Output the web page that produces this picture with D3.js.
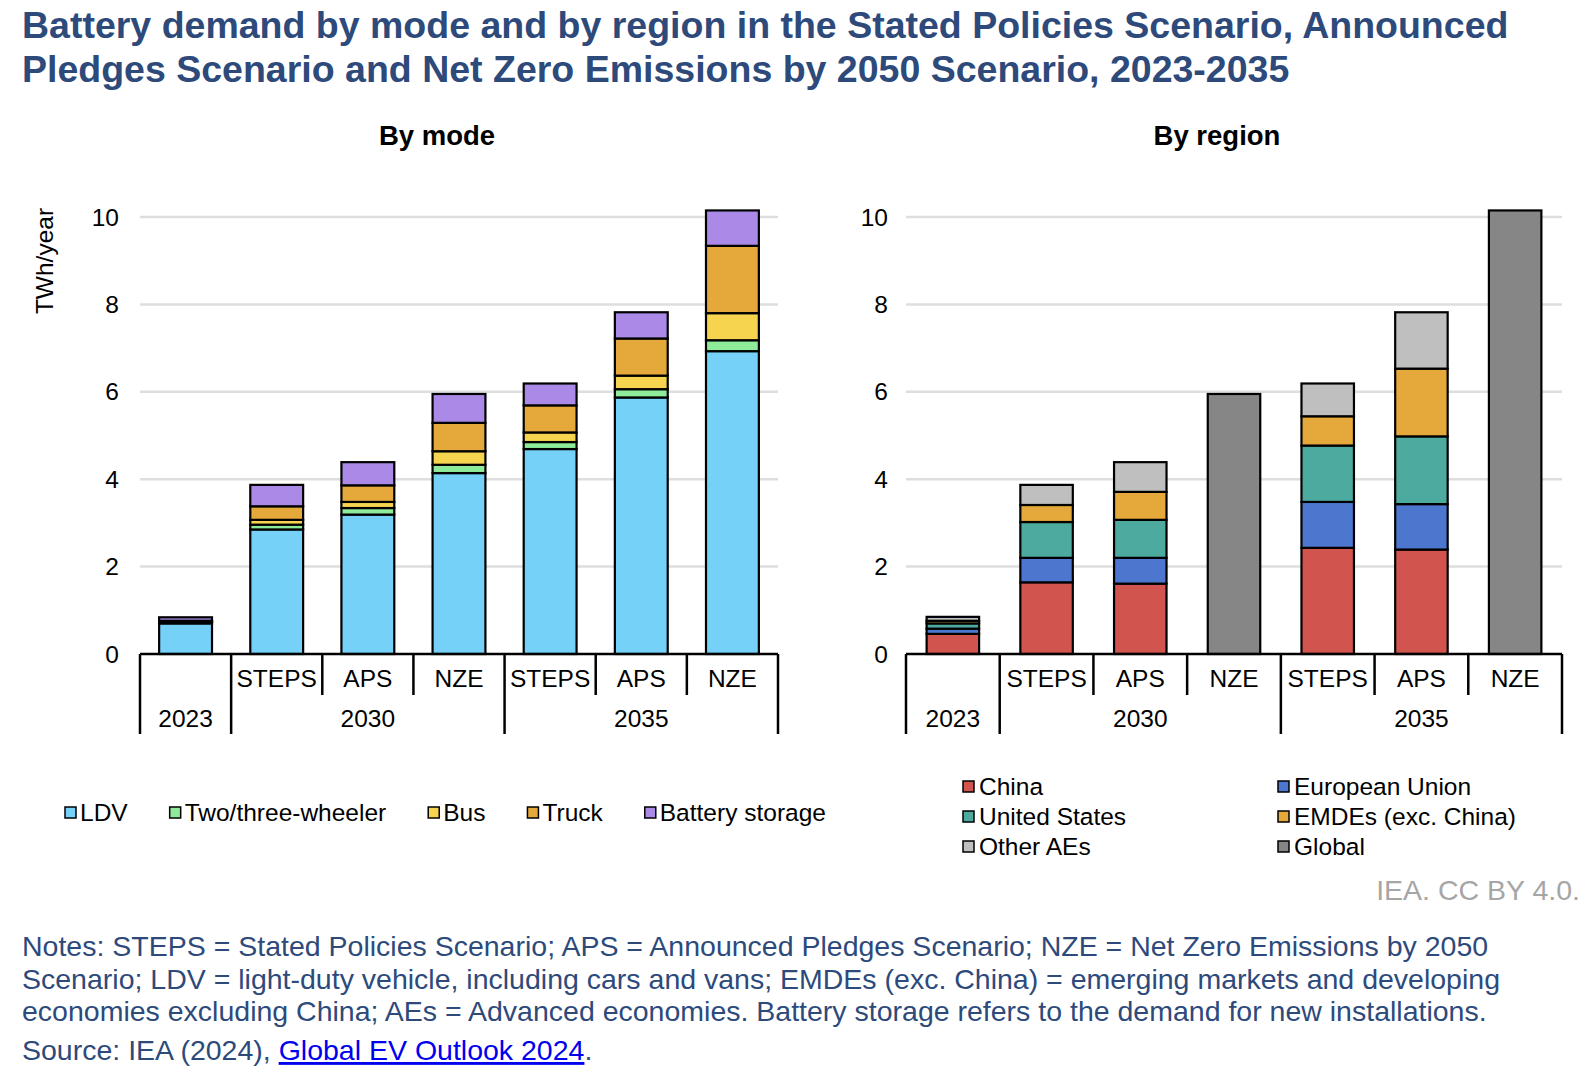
<!DOCTYPE html>
<html>
<head>
<meta charset="utf-8">
<script src="https://cdn.jsdelivr.net/npm/d3@7"></script>
<style>
    body { margin: 0; background: #fff; }
    svg text { font-family: "Liberation Sans", Arial, Helvetica, sans-serif; }
</style>
</head>
<body>
<svg id="chart" width="1588" height="1084"></svg>
<script>
// Categories (two-level axis)
const years = ["2023", "2030", "2030", "2030", "2035", "2035", "2035"];
const scenarios = ["", "STEPS", "APS", "NZE", "STEPS", "APS", "NZE"];
const yTicks = [0, 2, 4, 6, 8, 10];

// By mode, TWh/year
const modeNames = ["LDV", "Two/three-wheeler", "Bus", "Truck", "Battery storage"];
const ldv      = [0.70, 2.85, 3.19, 4.14, 4.69, 5.87, 6.93];
const twoThree = [0.03, 0.11, 0.15, 0.19, 0.16, 0.19, 0.25];
const bus      = [0.01, 0.11, 0.14, 0.31, 0.22, 0.31, 0.62];
const truck    = [0.02, 0.31, 0.38, 0.65, 0.62, 0.85, 1.54];
const storage  = [0.08, 0.49, 0.53, 0.66, 0.50, 0.60, 0.81];
const modeColors = ["#75d1f8", "#8eeb9a", "#f6d44f", "#e5a93b", "#aa8ae6"];

// By region, TWh/year
const regionNames = ["China", "European Union", "United States", "EMDEs (exc. China)", "Other AEs", "Global"];
const china    = [0.46, 1.64, 1.61, 0, 2.43, 2.39, 0];
const eu       = [0.12, 0.56, 0.59, 0, 1.05, 1.04, 0];
const us       = [0.12, 0.82, 0.87, 0, 1.29, 1.55, 0];
const emdes    = [0.06, 0.39, 0.64, 0, 0.67, 1.55, 0];
const otherAEs = [0.09, 0.46, 0.68, 0, 0.75, 1.29, 0];
const global   = [0, 0, 0, 5.95, 0, 0, 10.15];
const regionColors = ["#d1554e", "#4d77cf", "#4daa9e", "#e5a93b", "#bfbfbf", "#868686"];

const TITLE_COLOR = "#2d4a7b";
const svg = d3.select("#chart");

function buildRows(names, series) {
    return years.map((y, i) => {
        const row = { idx: i };
        names.forEach((n, k) => row[n] = series[k][i]);
        return row;
    });
}

function drawPanel(opt) {
    const g = svg.append("g");
    const x = d3.scaleBand()
        .domain(d3.range(years.length))
        .range([opt.left, opt.right])
        .paddingInner(opt.pad)
        .paddingOuter(opt.pad / 2);
    const y = d3.scaleLinear().domain([0, 10]).range([654, 217]);
    const step = x.step();
    const x0 = opt.left;

    // gridlines
    g.append("g").selectAll("line")
        .data(yTicks.filter(t => t > 0))
        .enter().append("line")
        .attr("x1", x0).attr("x2", opt.right)
        .attr("y1", d => y(d)).attr("y2", d => y(d))
        .attr("stroke", "#dedede").attr("stroke-width", 2.5);

    // tick labels
    g.append("g").selectAll("text")
        .data(yTicks)
        .enter().append("text")
        .attr("x", opt.tickX).attr("y", d => y(d) + 8.5)
        .attr("text-anchor", "end")
        .attr("font-size", 24.5)
        .text(d => d);

    // stacked bars
    const stack = d3.stack().keys(opt.names)(opt.rows);
    g.append("g").selectAll("g")
        .data(stack)
        .enter().append("g")
        .attr("fill", (d, i) => opt.colors[i])
        .selectAll("rect")
        .data(d => d.filter(s => s[1] - s[0] > 0))
        .enter().append("rect")
        .attr("x", d => x(d.data.idx))
        .attr("width", x.bandwidth())
        .attr("y", d => y(d[1]))
        .attr("height", d => y(d[0]) - y(d[1]))
        .attr("stroke", "#000").attr("stroke-width", 2.2);

    // category axis
    const ax = g.append("g").attr("stroke", "#000").attr("stroke-width", 2.5);
    ax.append("line").attr("x1", x0).attr("x2", opt.right).attr("y1", y(0)).attr("y2", y(0));
    const longIdx = [0, 1, 4, 7];
    d3.range(years.length + 1).forEach(i => {
        ax.append("line")
            .attr("x1", x0 + i * step).attr("x2", x0 + i * step)
            .attr("y1", y(0)).attr("y2", longIdx.includes(i) ? 734 : 695);
    });

    g.append("g").selectAll("text")
        .data(scenarios)
        .enter().append("text")
        .attr("x", (d, i) => x0 + (i + 0.5) * step)
        .attr("y", 687)
        .attr("text-anchor", "middle")
        .attr("font-size", 24.5)
        .text(d => d);

    const groups = [{ name: "2023", from: 0, to: 1 }, { name: "2030", from: 1, to: 4 }, { name: "2035", from: 4, to: 7 }];
    g.append("g").selectAll("text")
        .data(groups)
        .enter().append("text")
        .attr("x", d => x0 + (d.from + d.to) / 2 * step)
        .attr("y", 727)
        .attr("text-anchor", "middle")
        .attr("font-size", 24.5)
        .text(d => d.name);

    // panel subtitle
    g.append("text")
        .attr("x", opt.titleX).attr("y", 145)
        .attr("text-anchor", "middle")
        .attr("font-size", 27.5).attr("font-weight", "bold")
        .text(opt.title);
}

drawPanel({
    left: 140, right: 778, pad: 0.42, tickX: 119,
    names: modeNames, colors: modeColors,
    rows: buildRows(modeNames, [ldv, twoThree, bus, truck, storage]),
    title: "By mode", titleX: 437
});

drawPanel({
    left: 906, right: 1562, pad: 0.44, tickX: 888,
    names: regionNames, colors: regionColors,
    rows: buildRows(regionNames, [china, eu, us, emdes, otherAEs, global]),
    title: "By region", titleX: 1217
});

// y axis label
svg.append("text")
    .attr("transform", "translate(52.5,261) rotate(-90)")
    .attr("text-anchor", "middle")
    .attr("font-size", 24.5)
    .text("TWh/year");

// legend: by mode (single row)
const legMode = svg.append("g");
let lx = 65;
modeNames.forEach((n, i) => {
    legMode.append("rect")
        .attr("x", lx).attr("y", 807).attr("width", 11).attr("height", 11)
        .attr("fill", modeColors[i]).attr("stroke", "#000").attr("stroke-width", 1.5);
    const t = legMode.append("text")
        .attr("x", lx + 15).attr("y", 821)
        .attr("font-size", 24.5)
        .text(n);
    lx += 15 + t.node().getComputedTextLength() + 42;
});

// legend: by region (two columns)
const legRegion = svg.append("g");
regionNames.forEach((n, i) => {
    const cx = i % 2 === 0 ? 963 : 1278;
    const cy = 787 + Math.floor(i / 2) * 30;
    legRegion.append("rect")
        .attr("x", cx).attr("y", cy - 6).attr("width", 11).attr("height", 11)
        .attr("fill", regionColors[i]).attr("stroke", "#000").attr("stroke-width", 1.5);
    legRegion.append("text")
        .attr("x", cx + 16).attr("y", cy + 8)
        .attr("font-size", 24.5)
        .text(n);
});

// main title
const title = svg.append("text").attr("fill", TITLE_COLOR)
    .attr("font-size", 37.5).attr("font-weight", "bold");
title.append("tspan").attr("x", 22).attr("y", 38)
    .text("Battery demand by mode and by region in the Stated Policies Scenario, Announced");
title.append("tspan").attr("x", 22).attr("y", 81.5)
    .text("Pledges Scenario and Net Zero Emissions by 2050 Scenario, 2023-2035");

// credit
svg.append("text")
    .attr("x", 1580).attr("y", 900)
    .attr("text-anchor", "end")
    .attr("font-size", 28.5).attr("fill", "#a6a6a6")
    .text("IEA. CC BY 4.0.");

// notes
const notes = [
    "Notes: STEPS = Stated Policies Scenario; APS = Announced Pledges Scenario; NZE = Net Zero Emissions by 2050",
    "Scenario; LDV = light-duty vehicle, including cars and vans; EMDEs (exc. China) = emerging markets and developing",
    "economies excluding China; AEs = Advanced economies. Battery storage refers to the demand for new installations."
];
svg.append("g").selectAll("text")
    .data(notes)
    .enter().append("text")
    .attr("x", 22).attr("y", (d, i) => 956 + i * 32.5)
    .attr("font-size", 28.5).attr("fill", TITLE_COLOR)
    .text(d => d);

const src = svg.append("text")
    .attr("x", 22).attr("y", 1060)
    .attr("font-size", 28.5).attr("fill", TITLE_COLOR);
src.append("tspan").text("Source: IEA (2024), ");
src.append("tspan").attr("fill", "#0000ee").style("text-decoration", "underline").text("Global EV Outlook 2024");
src.append("tspan").text(".");
</script>
</body>
</html>
